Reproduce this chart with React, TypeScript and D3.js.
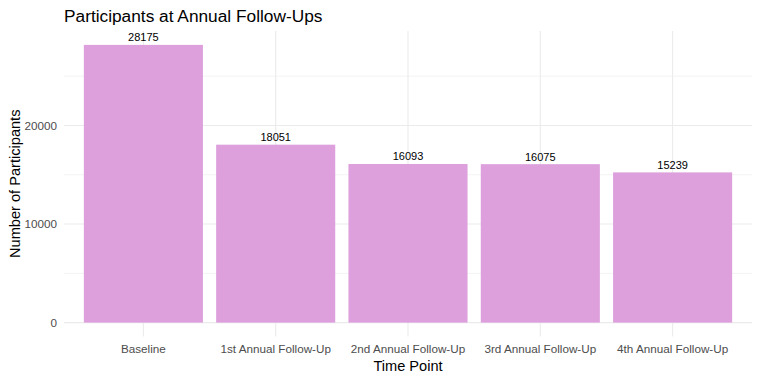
import React from "react";
import * as d3 from "d3";

const categories = [
  "Baseline",
  "1st Annual Follow-Up",
  "2nd Annual Follow-Up",
  "3rd Annual Follow-Up",
  "4th Annual Follow-Up",
];
const participants = [28175, 18051, 16093, 16075, 15239];
const yMajorTicks = [0, 10000, 20000];
const yMinorTicks = [5000, 15000, 25000];

const W = 760;
const H = 382;
const panel = { left: 64, right: 752, top: 31, bottom: 336.5 };
const FONT = "'Liberation Sans', Arial, Helvetica, sans-serif";

export default function App() {
  const maxV = d3.max(participants) as number;
  const pad = maxV * 0.05;
  const y = d3
    .scaleLinear()
    .domain([-pad, maxV + pad])
    .range([panel.bottom, panel.top]);
  const x = d3
    .scaleLinear()
    .domain([0.4, categories.length + 0.6])
    .range([panel.left, panel.right]);
  const barW = x(0.9) - x(0);
  const grid = "#EBEBEB";

  return (
    <svg
      width={W}
      height={H}
      style={{ position: "absolute", left: 0, top: 0, background: "#fff" }}
      fontFamily={FONT}
    >
      {yMinorTicks.map((t) => (
        <line key={"mn" + t} x1={panel.left} x2={panel.right} y1={y(t)} y2={y(t)} stroke={grid} strokeWidth={0.6} />
      ))}
      {yMajorTicks.map((t) => (
        <line key={"mj" + t} x1={panel.left} x2={panel.right} y1={y(t)} y2={y(t)} stroke={grid} strokeWidth={1.1} />
      ))}
      {categories.map((c, i) => (
        <line key={"vx" + c} x1={x(i + 1)} x2={x(i + 1)} y1={panel.top} y2={panel.bottom} stroke={grid} strokeWidth={1.1} />
      ))}
      {participants.map((v, i) => (
        <rect
          key={"b" + i}
          x={x(i + 1) - barW / 2}
          y={y(v)}
          width={barW}
          height={y(0) - y(v)}
          fill="#DDA0DD"
        />
      ))}
      {participants.map((v, i) => (
        <text key={"l" + i} x={x(i + 1)} y={y(v) - 3.5} textAnchor="middle" fontSize={11} fill="#000">
          {v}
        </text>
      ))}
      {yMajorTicks.map((t) => (
        <text key={"yt" + t} x={57} y={y(t)} dy="0.35em" textAnchor="end" fontSize={11.7} fill="#4D4D4D">
          {t}
        </text>
      ))}
      {categories.map((c, i) => (
        <text key={"xt" + c} x={x(i + 1)} y={353} textAnchor="middle" fontSize={11.7} fill="#4D4D4D">
          {c}
        </text>
      ))}
      <text x={64} y={22} fontSize={17.3} fill="#000">
        Participants at Annual Follow-Ups
      </text>
      <text x={(panel.left + panel.right) / 2} y={371} textAnchor="middle" fontSize={14.6} fill="#000">
        Time Point
      </text>
      <text
        transform={`translate(20,${(panel.top + panel.bottom) / 2}) rotate(-90)`}
        textAnchor="middle"
        fontSize={14.6}
        fill="#000"
      >
        Number of Participants
      </text>
    </svg>
  );
}
